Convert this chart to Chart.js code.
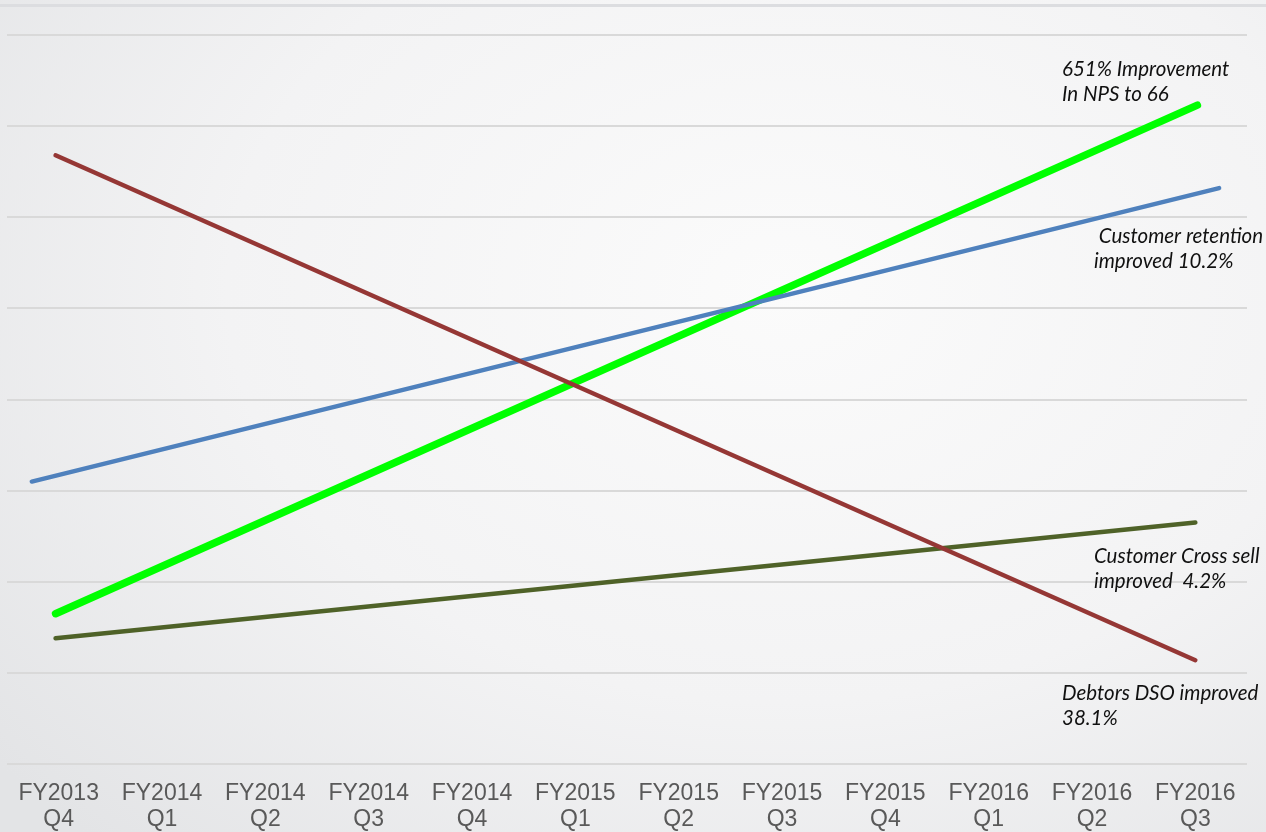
<!DOCTYPE html>
<html>
<head>
<meta charset="utf-8">
<script src="https://cdn.jsdelivr.net/npm/chart.js@4"></script>
<style>
  html, body { margin: 0; padding: 0; }
  body {
    width: 1266px; height: 832px; overflow: hidden; position: relative;
    background: radial-gradient(ellipse 80% 90% at 62% 35%, #fbfbfb 0%, #f3f3f4 55%, #e3e4e6 100%);
  }
  #topband { position: absolute; left: 0; top: 4px; width: 1266px; height: 3px; background: #dcdde0; }
  #wrap { position: absolute; left: 0; top: 0; width: 1266px; height: 849px; }
</style>
</head>
<body>
<div id="topband"></div>
<div id="wrap"><canvas id="chart"></canvas></div>
<script>
// quarter labels along the x axis
const quarters = [
  ['FY2013', 'Q4'], ['FY2014', 'Q1'], ['FY2014', 'Q2'], ['FY2014', 'Q3'],
  ['FY2014', 'Q4'], ['FY2015', 'Q1'], ['FY2015', 'Q2'], ['FY2015', 'Q3'],
  ['FY2015', 'Q4'], ['FY2016', 'Q1'], ['FY2016', 'Q2'], ['FY2016', 'Q3'],
];

// each trend is drawn as a straight line between its two end points
const retentionX = [-0.26, 11.23];
const retentionY = [3.10, 6.32];
const npsX = [-0.03, 11.02];
const npsY = [1.65, 7.23];
const dsoX = [-0.03, 11.0];
const dsoY = [6.68, 1.14];
const crossSellX = [-0.03, 11.0];
const crossSellY = [1.38, 2.65];

const notes = [
  { lines: ['651% Improvement', 'In NPS to 66'], x: 1062, y: 69 },
  { lines: [' Customer retention', 'improved 10.2%'], x: 1094, y: 236 },
  { lines: ['Customer Cross sell', 'improved  4.2%'], x: 1094, y: 556 },
  { lines: ['Debtors DSO improved', '38.1%'], x: 1062, y: 693 },
];

const toPoints = (xs, ys) => xs.map((x, i) => ({ x: x, y: ys[i] }));

// text next to the line ends
const notesPlugin = {
  id: 'notes',
  afterDatasetsDraw(chart) {
    const ctx = chart.ctx;
    ctx.save();
    ctx.font = 'italic 20.5px Lato, "Open Sans", sans-serif';
    ctx.fillStyle = '#111111';
    ctx.textBaseline = 'middle';
    ctx.textAlign = 'left';
    notes.forEach((n) => {
      n.lines.forEach((line, i) => ctx.fillText(line, n.x, n.y + i * 25.5));
    });
    ctx.restore();
  },
};

const lineStyle = (color, width) => ({
  borderColor: color,
  backgroundColor: color,
  borderWidth: width,
  borderCapStyle: 'round',
  pointRadius: 0,
  fill: false,
  tension: 0,
});

new Chart(document.getElementById('chart'), {
  type: 'line',
  data: {
    datasets: [
      { label: 'Debtors DSO', data: toPoints(dsoX, dsoY), ...lineStyle('#953735', 4.5) },
      { label: 'Customer Cross sell', data: toPoints(crossSellX, crossSellY), ...lineStyle('#4F6228', 4.5) },
      { label: 'Customer retention', data: toPoints(retentionX, retentionY), ...lineStyle('#4F81BD', 4.5) },
      { label: 'NPS', data: toPoints(npsX, npsY), ...lineStyle('#00FF00', 7.5) },
    ],
  },
  options: {
    responsive: true,
    maintainAspectRatio: false,
    animation: false,
    layout: { padding: { left: 7, right: 19, top: 35, bottom: 0 } },
    plugins: { legend: { display: false }, tooltip: { enabled: false } },
    scales: {
      x: {
        type: 'linear',
        min: -0.5,
        max: 11.5,
        afterBuildTicks: (scale) => {
          scale.ticks = quarters.map((q, i) => ({ value: i }));
        },
        ticks: {
          autoSkip: false,
          maxRotation: 0,
          padding: 16,
          color: '#595959',
          font: { family: '"Liberation Sans", Arial, sans-serif', size: 23, lineHeight: 1.15 },
          callback: (value) => quarters[value],
        },
        grid: { display: false, drawTicks: false },
        border: { display: false },
      },
      y: {
        min: 0,
        max: 8,
        ticks: { display: false, stepSize: 1 },
        grid: { color: '#d9d9d9', lineWidth: 2, drawTicks: false },
        border: { display: false },
      },
    },
  },
  plugins: [notesPlugin],
});
</script>
</body>
</html>
